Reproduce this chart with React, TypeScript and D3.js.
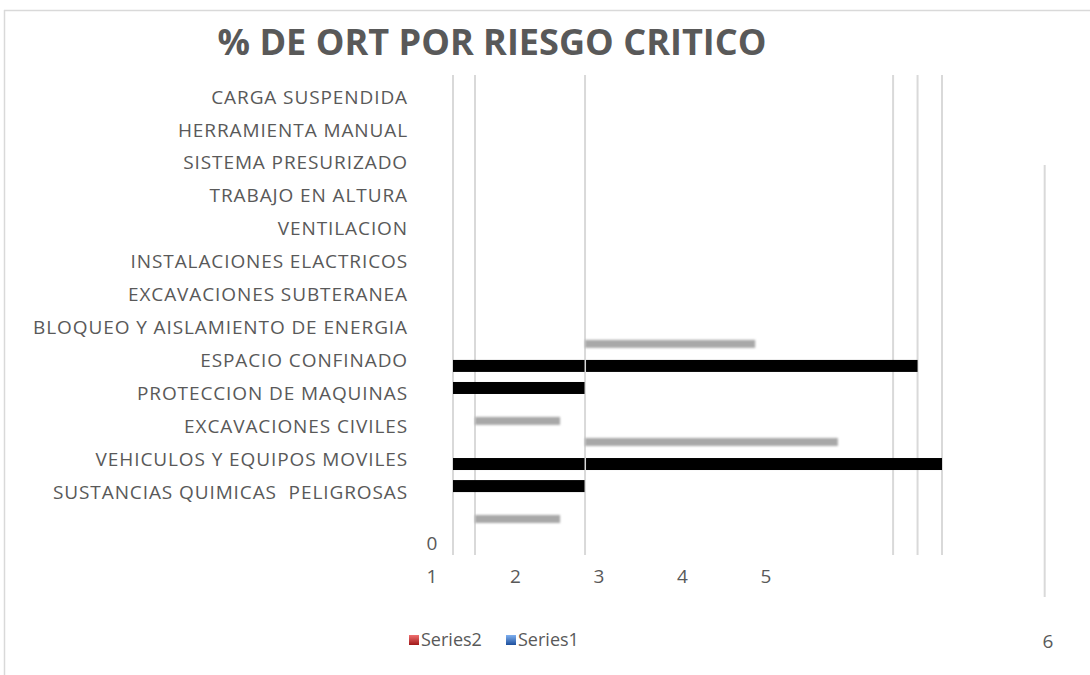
import React from "react";
import * as d3 from "d3";

// categories, top to bottom as they read in the chart
const categories = [
  "CARGA SUSPENDIDA",
  "HERRAMIENTA MANUAL",
  "SISTEMA PRESURIZADO",
  "TRABAJO EN ALTURA",
  "VENTILACION",
  "INSTALACIONES ELACTRICOS",
  "EXCAVACIONES SUBTERANEA",
  "BLOQUEO Y AISLAMIENTO DE ENERGIA",
  "ESPACIO CONFINADO",
  "PROTECCION DE MAQUINAS",
  "EXCAVACIONES CIVILES",
  "VEHICULOS Y EQUIPOS MOVILES",
  "SUSTANCIAS QUIMICAS  PELIGROSAS",
];

// dark bars (row position in category units, value in %)
const darkRows = [8.17, 8.84, 11.15, 11.82];
const darkValues = [95, 27, 100, 27];
const breakValue = 27;

// grey shadowed bars
const shadowRows = [7.5, 9.84, 10.48, 12.82];
const shadowStarts = [27, 4.5, 27, 4.5];
const shadowEnds = [61.8, 21.9, 78.7, 21.9];

const gridValues = [0, 4.5, 27, 90, 95, 100];
const strayGridValue = 121;
const xTickLabels = ["1", "2", "3", "4", "5"];
const legendItems = [
  { name: "Series2", from: "#f07070", to: "#a01818" },
  { name: "Series1", from: "#7fb0f0", to: "#1d4f9c" },
];

const W = 1090;
const H = 675;
const font = "'Open Sans', sans-serif";
const textColor = "#595959";
const gridColor = "#d9d9d9";
const labelStyle = { whiteSpace: "pre" as const, letterSpacing: "0.9px" };

const App = () => {
  const x = d3.scaleLinear().domain([0, 100]).range([453, 942]);
  const y = d3.scaleLinear().domain([0, categories.length - 1]).range([97, 492]);
  const xTick = d3.scalePoint().domain(xTickLabels).range([432, 766]);

  const gridTop = 75;
  const gridBottom = 555;

  return (
    <svg width={W} height={H} style={{ position: "absolute", left: 0, top: 0, display: "block", background: "#fff" }}>
      <defs>
        <filter id="soft" x="-10%" y="-100%" width="120%" height="300%">
          <feGaussianBlur stdDeviation="1.3" />
        </filter>
        {legendItems.map((l, i) => (
          <linearGradient id={`lg${i}`} key={i} x1="0" y1="0" x2="0" y2="1">
            <stop offset="0" stopColor={l.from} />
            <stop offset="1" stopColor={l.to} />
          </linearGradient>
        ))}
      </defs>

      {/* chart border */}
      <line x1={4} x2={W} y1={10.5} y2={10.5} stroke={gridColor} strokeWidth={1.5} />
      <line x1={4.5} x2={4.5} y1={10} y2={H} stroke={gridColor} strokeWidth={1.5} />

      <text x={492} y={55} textAnchor="middle" fontFamily={font} fontWeight="bold" fontSize={35}
        fill={textColor} textLength={549} lengthAdjust="spacingAndGlyphs">
        % DE ORT POR RIESGO CRITICO
      </text>

      {gridValues.map((v, i) => (
        <line key={i} x1={x(v)} x2={x(v)} y1={gridTop} y2={gridBottom} stroke={gridColor} strokeWidth={2} />
      ))}
      <line x1={x(strayGridValue)} x2={x(strayGridValue)} y1={165} y2={597} stroke={gridColor} strokeWidth={2} />

      {categories.map((c, i) => (
        <text key={c} x={408} y={y(i)} dy="0.35em" textAnchor="end" fontFamily={font} fontSize={19}
          fill={textColor} style={labelStyle}>
          {c}
        </text>
      ))}
      <text x={432} y={y(13.55)} dy="0.35em" textAnchor="middle" fontFamily={font} fontSize={19} fill={textColor}>0</text>

      {shadowRows.map((r, i) => (
        <rect key={i} x={x(shadowStarts[i])} y={y(r) - 4} width={x(shadowEnds[i]) - x(shadowStarts[i])} height={8}
          fill="#a8a8a8" filter="url(#soft)" />
      ))}

      {darkRows.map((r, i) => {
        const end = darkValues[i];
        const first = Math.min(end, breakValue);
        return (
          <g key={i}>
            <rect x={x(0)} y={y(r) - 6} width={x(first) - x(0) - 0.5} height={12} fill="#000" />
            {end > breakValue && (
              <rect x={x(breakValue) + 1} y={y(r) - 6} width={x(end) - x(breakValue) - 1} height={12} fill="#000" />
            )}
          </g>
        );
      })}

      {xTickLabels.map((t) => (
        <text key={t} x={xTick(t)} y={576} dy="0.35em" textAnchor="middle" fontFamily={font} fontSize={19} fill={textColor}>
          {t}
        </text>
      ))}

      {legendItems.map((l, i) => {
        const lx = 409 + i * 97;
        return (
          <g key={l.name}>
            <rect x={lx} y={635} width={10} height={10} fill={`url(#lg${i})`} />
            <text x={lx + 12} y={640} dy="0.35em" fontFamily={font} fontSize={18} fill={textColor}>{l.name}</text>
          </g>
        );
      })}
      <text x={1048} y={641} dy="0.35em" textAnchor="middle" fontFamily={font} fontSize={19} fill={textColor}>6</text>
    </svg>
  );
};

export default App;
